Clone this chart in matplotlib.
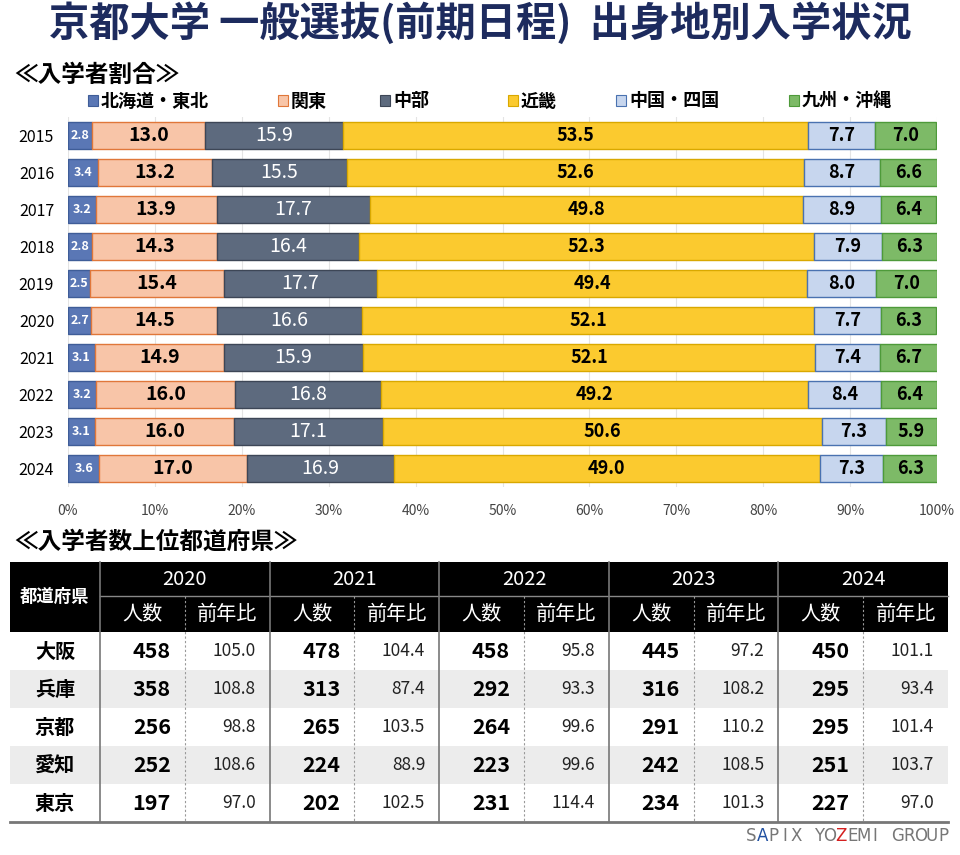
import matplotlib
matplotlib.use('Agg')
import matplotlib.pyplot as plt
from matplotlib.patches import Rectangle
import numpy as np

plt.rcParams['font.family'] = ['Noto Sans CJK JP', 'DejaVu Sans']

# ---- data ----
years = [2015, 2016, 2017, 2018, 2019, 2020, 2021, 2022, 2023, 2024]
regions = ['北海道・東北', '関東', '中部', '近畿', '中国・四国', '九州・沖縄']
hokkaido_tohoku = [2.8, 3.4, 3.2, 2.8, 2.5, 2.7, 3.1, 3.2, 3.1, 3.6]
kanto = [13.0, 13.2, 13.9, 14.3, 15.4, 14.5, 14.9, 16.0, 16.0, 17.0]
chubu = [15.9, 15.5, 17.7, 16.4, 17.7, 16.6, 15.9, 16.8, 17.1, 16.9]
kinki = [53.5, 52.6, 49.8, 52.3, 49.4, 52.1, 52.1, 49.2, 50.6, 49.0]
chugoku_shikoku = [7.7, 8.7, 8.9, 7.9, 8.0, 7.7, 7.4, 8.4, 7.3, 7.3]
kyushu_okinawa = [7.0, 6.6, 6.4, 6.3, 7.0, 6.3, 6.7, 6.4, 5.9, 6.3]
series = [hokkaido_tohoku, kanto, chubu, kinki, chugoku_shikoku, kyushu_okinawa]

prefs = ['大阪', '兵庫', '京都', '愛知', '東京']
table_years = [2020, 2021, 2022, 2023, 2024]
counts_2020 = [458, 358, 256, 252, 197]
counts_2021 = [478, 313, 265, 224, 202]
counts_2022 = [458, 292, 264, 223, 231]
counts_2023 = [445, 316, 291, 242, 234]
counts_2024 = [450, 295, 295, 251, 227]
ratio_2020 = [105.0, 108.8, 98.8, 108.6, 97.0]
ratio_2021 = [104.4, 87.4, 103.5, 88.9, 102.5]
ratio_2022 = [95.8, 93.3, 99.6, 99.6, 114.4]
ratio_2023 = [97.2, 108.2, 110.2, 108.5, 101.3]
ratio_2024 = [101.1, 93.4, 101.4, 103.7, 97.0]
counts = [counts_2020, counts_2021, counts_2022, counts_2023, counts_2024]
ratios = [ratio_2020, ratio_2021, ratio_2022, ratio_2023, ratio_2024]

# ---- styles ----
fills = ['#5a77b5', '#f8c5a8', '#5d6a7e', '#fbca2f', '#c7d6ee', '#7dba67']
edges = ['#3f5d98', '#e0773a', '#3d4656', '#d9a800', '#4a72b0', '#4e9a3a']
label_colors = ['white', 'black', 'white', 'black', 'black', 'black']
label_sizes = [9, 14, 14, 13, 13, 13]
label_weights = ['bold', 'bold', 'normal', 'bold', 'bold', 'bold']

W, H = 960, 855
fig = plt.figure(figsize=(W / 100, H / 100), dpi=100)

# overlay axes in pixel coordinates for titles, legend, table
ov = fig.add_axes([0, 0, 1, 1], zorder=0)
ov.set_xlim(0, W)
ov.set_ylim(H, 0)
ov.axis('off')

ov.text(480, 24, '京都大学 一般選抜(前期日程)  出身地別入学状況', ha='center', va='center',
        fontsize=29, fontweight='bold', color='#1d2b5e')
ov.text(14, 75, '≪入学者割合≫', ha='left', va='center', fontsize=17, fontweight='bold')

legend_x = [88, 278, 380, 508, 616, 789]
for x, name, fc, ec in zip(legend_x, regions, fills, edges):
    ov.add_patch(Rectangle((x, 95), 10, 11, facecolor=fc, edgecolor=ec, lw=0.8))
    ov.text(x + 13, 101, name, ha='left', va='center', fontsize=13, fontweight='bold')

# ---- bar chart ----
top_px, bot_px = 117, 487
left_px, right_px = 68, 937
ax = fig.add_axes([left_px / W, 1 - bot_px / H, (right_px - left_px) / W, (bot_px - top_px) / H], zorder=1)
ax.patch.set_alpha(0)
y = np.arange(len(years))
left = np.zeros(len(years))
for i, vals in enumerate(series):
    vals = np.array(vals)
    ax.barh(y, vals, left=left, height=0.72, color=fills[i], edgecolor=edges[i], linewidth=1, zorder=2)
    for yy, l, v in zip(y, left, vals):
        ax.text(l + v / 2, yy, f'{v:.1f}', ha='center', va='center', color=label_colors[i],
                fontsize=label_sizes[i], fontweight=label_weights[i], zorder=3)
    left += vals

ax.set_xlim(0, 100)
ax.set_ylim(len(years) - 0.5, -0.5)
ax.set_yticks(y)
ax.set_yticklabels([str(v) for v in years], fontsize=11.5)
ax.set_xticks(np.arange(0, 101, 10))
ax.set_xticklabels([f'{v}%' for v in range(0, 101, 10)], fontsize=10, color='#444444')
ax.tick_params(length=0, pad=12)
ax.tick_params(axis='y', pad=10)
ax.grid(axis='x', color='#e4e4e4', lw=0.8, zorder=0)
for sp in ax.spines.values():
    sp.set_visible(False)

# ---- table ----
ov.text(14, 542, '≪入学者数上位都道府県≫', ha='left', va='center', fontsize=17, fontweight='bold')

tx0, tx1 = 10, 948
col0 = 100
block = (tx1 - col0) / len(table_years)
h_top, h_mid, h_bot = 562, 596, 632
row_h = 38

ov.add_patch(Rectangle((tx0, h_top), tx1 - tx0, h_bot - h_top, facecolor='black', edgecolor='none'))
ov.plot([col0, tx1], [h_mid, h_mid], color='#888888', lw=1)
ov.text((tx0 + col0) / 2, (h_top + h_bot) / 2, '都道府県', ha='center', va='center',
        color='white', fontsize=12.5, fontweight='bold')

for r in range(len(prefs)):
    ry = h_bot + r * row_h
    if r % 2 == 1:
        ov.add_patch(Rectangle((tx0, ry), tx1 - tx0, row_h, facecolor='#ececec', edgecolor='none'))
    ov.text((tx0 + col0) / 2, ry + row_h / 2, prefs[r], ha='center', va='center',
            fontsize=14.5, fontweight='bold')

bottom = h_bot + len(prefs) * row_h
for j, yr in enumerate(table_years):
    bx = col0 + j * block
    mid = bx + block / 2
    ov.text(mid, (h_top + h_mid) / 2, str(yr), ha='center', va='center', color='white', fontsize=14.5)
    ov.text(bx + block / 4, (h_mid + h_bot) / 2, '人数', ha='center', va='center', color='white', fontsize=14.5)
    ov.text(bx + 3 * block / 4, (h_mid + h_bot) / 2, '前年比', ha='center', va='center', color='white', fontsize=14.5)
    ov.plot([bx, bx], [h_top, bottom], color='#777777', lw=1.2)
    ov.plot([mid, mid], [h_mid, bottom], color='#999999', lw=0.8, ls=(0, (2, 2)))
    for r in range(len(prefs)):
        ry = h_bot + r * row_h + row_h / 2
        ov.text(mid - 14, ry, str(counts[j][r]), ha='right', va='center', fontsize=15.5, fontweight='bold')
        ov.text(bx + block - 14, ry, f'{ratios[j][r]:.1f}', ha='right', va='center', fontsize=12.5,
                color='#222222')
ov.plot([tx0, tx1], [bottom, bottom], color='#777777', lw=2)

# footer
footer = 'SAPIX YOZEMI GROUP'
fcol = {1: '#1f4fa0', 8: '#d42020'}
for i, ch in enumerate(footer):
    ov.text(746 + i * 11.3 + 5, 836, ch, ha='center', va='center', fontsize=12,
            color=fcol.get(i, '#777777'), family=['DejaVu Sans'])

fig.savefig('out.png', dpi=100)
